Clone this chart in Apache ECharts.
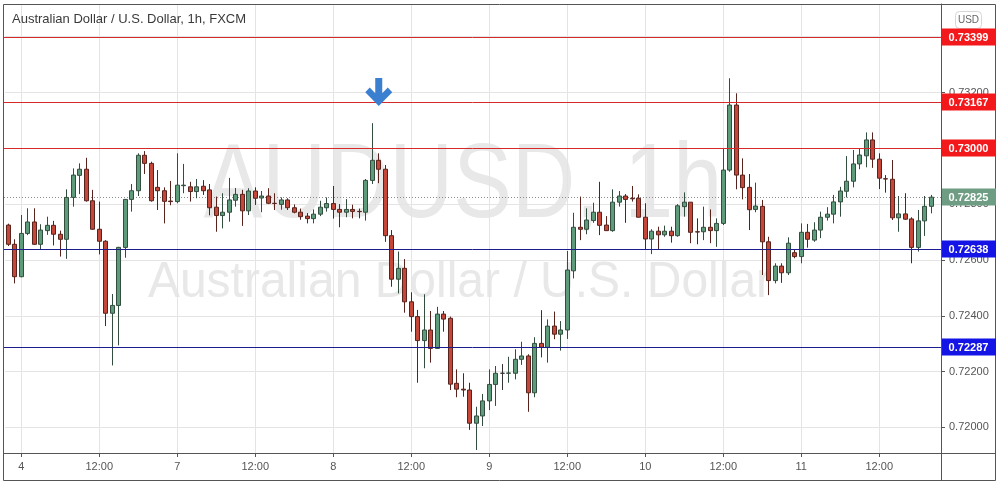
<!DOCTYPE html>
<html><head><meta charset="utf-8">
<script src="https://cdn.jsdelivr.net/npm/echarts@6/dist/echarts.min.js"></script>
<style>html,body{margin:0;padding:0;background:#fff}#c{width:1000px;height:486px}</style>
</head><body><div id="c"></div>
<script>
// ---- data ----
const days = ['3','4','7','8','9','10','11'];
const firstHour = 22;
const opens = [0.72725,0.72656,0.72540,0.72695,0.72736,0.72656,0.72705,0.72724,0.72692,0.72674,
 0.72824,0.72903,0.72925,0.72812,0.72710,0.72667,0.72409,0.72437,0.72645,0.72817,
 0.72848,0.72975,0.72946,0.72860,0.72848,0.72811,0.72809,0.72866,0.72862,0.72845,
 0.72864,0.72851,0.72789,0.72759,0.72771,0.72814,0.72835,0.72776,0.72847,0.72822,
 0.72829,0.72803,0.72799,0.72815,0.72787,0.72771,0.72757,0.72748,0.72764,0.72787,
 0.72802,0.72781,0.72771,0.72781,0.72774,0.72771,0.72885,0.72957,0.72925,0.72687,
 0.72531,0.72570,0.72450,0.72397,0.72311,0.72349,0.72283,0.72406,0.72391,0.72158,
 0.72137,0.72134,0.72015,0.72041,0.72095,0.72154,0.72194,0.72194,0.72194,0.72244,
 0.72256,0.72124,0.72301,0.72287,0.72363,0.72334,0.72349,0.72561,0.72717,0.72710,
 0.72741,0.72771,0.72725,0.72705,0.72807,0.72829,0.72821,0.72821,0.72753,0.72675,
 0.72703,0.72690,0.72703,0.72687,0.72791,0.72807,0.72701,0.72701,0.72717,0.72705,
 0.72731,0.72922,0.73155,0.72904,0.72860,0.72781,0.72792,0.72665,0.72526,0.72578,
 0.72554,0.72626,0.72612,0.72699,0.72671,0.72707,0.72753,0.72764,0.72808,0.72846,
 0.72882,0.72944,0.72973,0.73030,0.72961,0.72891,0.72889,0.72751,0.72765,0.72747,
 0.72645,0.72740,0.72792];
const closes = [0.72656,0.72540,0.72695,0.72736,0.72656,0.72707,0.72724,0.72692,0.72674,0.72824,
 0.72904,0.72925,0.72812,0.72710,0.72667,0.72409,0.72437,0.72645,0.72817,0.72848,
 0.72975,0.72946,0.72812,0.72848,0.72810,0.72809,0.72868,0.72868,0.72845,0.72862,
 0.72848,0.72787,0.72759,0.72771,0.72815,0.72835,0.72776,0.72847,0.72821,0.72829,
 0.72803,0.72802,0.72815,0.72787,0.72771,0.72755,0.72748,0.72764,0.72789,0.72802,
 0.72781,0.72771,0.72781,0.72774,0.72773,0.72885,0.72957,0.72925,0.72687,0.72531,
 0.72570,0.72450,0.72397,0.72311,0.72349,0.72283,0.72406,0.72388,0.72155,0.72137,
 0.72134,0.72015,0.72041,0.72095,0.72154,0.72194,0.72194,0.72195,0.72244,0.72256,
 0.72124,0.72301,0.72287,0.72363,0.72334,0.72349,0.72564,0.72717,0.72710,0.72743,
 0.72771,0.72724,0.72705,0.72807,0.72829,0.72817,0.72819,0.72753,0.72675,0.72703,
 0.72690,0.72703,0.72687,0.72794,0.72807,0.72699,0.72700,0.72717,0.72705,0.72731,
 0.72922,0.73155,0.72904,0.72859,0.72780,0.72793,0.72665,0.72526,0.72578,0.72554,
 0.72660,0.72612,0.72699,0.72674,0.72707,0.72753,0.72764,0.72808,0.72847,0.72882,
 0.72944,0.72976,0.73030,0.72961,0.72893,0.72890,0.72751,0.72765,0.72746,0.72645,
 0.72740,0.72792,0.72825];
const lows = [0.72650,0.72516,0.72538,0.72689,0.72654,0.72638,0.72690,0.72652,0.72612,0.72604,
 0.72791,0.72836,0.72809,0.72708,0.72620,0.72363,0.72222,0.72294,0.72608,0.72773,
 0.72829,0.72908,0.72809,0.72779,0.72731,0.72796,0.72803,0.72839,0.72809,0.72821,
 0.72833,0.72760,0.72701,0.72713,0.72737,0.72791,0.72722,0.72761,0.72797,0.72771,
 0.72800,0.72779,0.72780,0.72779,0.72767,0.72744,0.72731,0.72731,0.72757,0.72773,
 0.72748,0.72717,0.72753,0.72749,0.72749,0.72741,0.72872,0.72875,0.72665,0.72504,
 0.72480,0.72411,0.72343,0.72160,0.72212,0.72232,0.72281,0.72343,0.72134,0.72108,
 0.72110,0.71991,0.71919,0.72005,0.72062,0.72077,0.72134,0.72160,0.72172,0.72224,
 0.72056,0.72108,0.72251,0.72232,0.72316,0.72275,0.72317,0.72534,0.72671,0.72692,
 0.72733,0.72689,0.72705,0.72701,0.72791,0.72733,0.72809,0.72753,0.72638,0.72621,
 0.72638,0.72683,0.72662,0.72683,0.72755,0.72660,0.72656,0.72671,0.72660,0.72647,
 0.72725,0.72916,0.72853,0.72817,0.72707,0.72771,0.72546,0.72474,0.72516,0.72518,
 0.72546,0.72606,0.72588,0.72644,0.72665,0.72678,0.72741,0.72731,0.72755,0.72824,
 0.72860,0.72925,0.72932,0.72930,0.72854,0.72841,0.72743,0.72701,0.72743,0.72588,
 0.72630,0.72686,0.72767];
const highs = [0.72730,0.72674,0.72761,0.72785,0.72785,0.72728,0.72755,0.72740,0.72705,0.72853,
 0.72928,0.72946,0.72966,0.72851,0.72809,0.72671,0.72478,0.72647,0.72818,0.72872,
 0.72982,0.72990,0.72952,0.72922,0.72860,0.72883,0.72982,0.72944,0.72880,0.72890,
 0.72886,0.72872,0.72827,0.72839,0.72894,0.72858,0.72851,0.72857,0.72860,0.72847,
 0.72857,0.72839,0.72824,0.72821,0.72799,0.72784,0.72768,0.72781,0.72812,0.72824,
 0.72865,0.72800,0.72818,0.72798,0.72784,0.72890,0.73090,0.72982,0.72940,0.72707,
 0.72630,0.72603,0.72484,0.72421,0.72477,0.72417,0.72432,0.72417,0.72397,0.72208,
 0.72194,0.72160,0.72074,0.72120,0.72208,0.72220,0.72227,0.72253,0.72280,0.72307,
 0.72262,0.72323,0.72420,0.72387,0.72415,0.72381,0.72632,0.72769,0.72827,0.72785,
 0.72805,0.72880,0.72757,0.72853,0.72847,0.72836,0.72865,0.72835,0.72803,0.72710,
 0.72719,0.72723,0.72719,0.72800,0.72842,0.72807,0.72749,0.72791,0.72781,0.72749,
 0.73000,0.73251,0.73197,0.72964,0.72908,0.72877,0.72815,0.72683,0.72588,0.72588,
 0.72681,0.72638,0.72731,0.72729,0.72735,0.72773,0.72789,0.72833,0.72862,0.72972,
 0.72994,0.72999,0.73057,0.73057,0.72982,0.72904,0.72958,0.72829,0.72839,0.72753,
 0.72779,0.72829,0.72833];
const resistanceLevels = [0.73399, 0.73167, 0.73000];
const supportLevels = [0.72638, 0.72287];
const lastPrice = 0.72825;
const priceTicks = [0.720, 0.722, 0.724, 0.726, 0.728, 0.730, 0.732, 0.734];
const arrowMark = { index: 57, price: 0.73202 };
const yMin = 0.719083, yMax = 0.73517;

// ---- build ----
const cats = [];
for (let i = 0; i < opens.length; i++) {
  const t = firstHour + i;
  cats.push(days[Math.floor(t / 24)] + ' ' + String(t % 24).padStart(2, '0') + ':00');
}
cats.push('');
const isMajor = v => / (00|12):00$/.test(v);
const fmtCat = v => v.endsWith(' 00:00') ? v.split(' ')[0] : (v.endsWith(' 12:00') ? '12:00' : '');
const candles = opens.map((o, i) => [o, closes[i], lows[i], highs[i]]);
const FONT = 'Liberation Sans';

const baseGraphic = [
  { type: 'text', z: 0, x: 463, y: 188, scaleY: 1.2, silent: true,
    style: { text: 'AUDUSD, 1h', fill: '#e8e8e8', font: '88px "Liberation Sans"', textAlign: 'center', textVerticalAlign: 'middle' } },
  { type: 'text', z: 0, x: 460, y: 283, scaleY: 1.05, silent: true,
    style: { text: 'Australian Dollar / U.S. Dollar', fill: '#e8e8e8', font: '48px "Liberation Sans"', textAlign: 'center', textVerticalAlign: 'middle' } },
  { type: 'text', z: 50, x: 12, y: 19, silent: true,
    style: { text: 'Australian Dollar / U.S. Dollar, 1h, FXCM', fill: '#3a3a3a', font: '13px "Liberation Sans"', textVerticalAlign: 'middle' } },
  { type: 'rect', z: 50, silent: true, shape: { x: 3.5, y: 4.5, width: 992, height: 476 }, style: { fill: 'none', stroke: '#555', lineWidth: 1 } },
  { type: 'line', z: 50, silent: true, shape: { x1: 941.5, y1: 4, x2: 941.5, y2: 481 }, style: { stroke: '#555', lineWidth: 1 } },
  { type: 'line', z: 50, silent: true, shape: { x1: 3, y1: 453.5, x2: 996, y2: 453.5 }, style: { stroke: '#555', lineWidth: 1 } },
  { type: 'rect', z: 50, silent: true, shape: { x: 955.5, y: 11.5, width: 26, height: 17, r: 4 }, style: { fill: '#fff', stroke: '#d6d6d6', lineWidth: 1 } },
  { type: 'text', z: 51, x: 968.5, y: 20, silent: true,
    style: { text: 'USD', fill: '#666', font: '10px "Liberation Sans"', textAlign: 'center', textVerticalAlign: 'middle' } }
];

const chart = echarts.init(document.getElementById('c'));
chart.setOption({
  animation: false,
  backgroundColor: '#fff',
  grid: { left: 5, right: 59, top: 4, bottom: 33, containLabel: false },
  xAxis: {
    type: 'category', data: cats, boundaryGap: true,
    axisLine: { show: true, lineStyle: { color: '#555' } },
    axisTick: { show: true, alignWithLabel: true, length: 4, interval: (i, v) => isMajor(v), lineStyle: { color: '#555' } },
    axisLabel: { interval: (i, v) => isMajor(v), formatter: fmtCat, color: '#555', fontSize: 11, fontFamily: FONT, margin: 8 },
    splitLine: { show: false }
  },
  yAxis: {
    type: 'value', position: 'right', min: yMin, max: yMax, scale: true,
    axisLine: { show: true, lineStyle: { color: '#555' } },
    axisTick: { show: true, length: 4, customValues: priceTicks, lineStyle: { color: '#555' } },
    axisLabel: { customValues: priceTicks, formatter: v => v.toFixed(5), color: '#555', fontSize: 11, fontFamily: FONT, margin: 8 },
    splitLine: { show: false }
  },
  series: [
    {
      type: 'line', data: [], silent: true, z: 1, color: '#e4e4e4',
      markLine: {
        silent: true, symbol: 'none', z: 1, animation: false, precision: 6,
        label: { show: false },
        lineStyle: { color: '#e4e4e4', width: 1, type: 'solid' },
        data: [
          ...priceTicks.map(v => ({ yAxis: v })),
          ...cats.filter(isMajor).map(c => ({ xAxis: c }))
        ]
      }
    },
    {
      type: 'candlestick', data: candles, z: 2, barWidth: 4.5,
      itemStyle: { color: '#5e9b7b', color0: '#c4473a', borderColor: '#334d3f', borderColor0: '#57231c', borderColorDoji: '#333', borderWidth: 1 },
      markPoint: {
        silent: true, z: 12,
        data: [{ coord: [arrowMark.index, arrowMark.price],
          symbol: 'path://M10.5,0 L17.5,0 L17.5,15 L23,9.5 L27.5,14 L14,27.5 L0.5,14 L5,9.5 L10.5,15 Z',
          symbolSize: [27, 28], itemStyle: { color: '#3a7fd0' }, label: { show: false } }]
      }
    }
  ],
  graphic: baseGraphic
});

// level lines and price boxes, positioned through the y axis scale
const yPix = v => Math.round(chart.convertToPixel({ yAxisIndex: 0 }, v)) + 0.5;
const extra = [];
const addLevel = (v, lineColor, boxColor, dashed, z) => {
  const y = yPix(v);
  extra.push({ type: 'line', z: z, silent: true, shape: { x1: 4, y1: y, x2: 941, y2: y },
    style: { stroke: lineColor, lineWidth: 1, lineDash: dashed ? [1, 2] : null } });
  extra.push({ type: 'rect', z: 60, silent: true, shape: { x: 942, y: y - 9, width: 54, height: 17 }, style: { fill: boxColor } });
  extra.push({ type: 'text', z: 61, silent: true, x: 968.5, y: y,
    style: { text: v.toFixed(5), fill: '#fff', font: 'bold 11px "Liberation Sans"', textAlign: 'center', textVerticalAlign: 'middle' } });
};
addLevel(lastPrice, '#8c8c8c', '#6e9d83', true, 1);
resistanceLevels.forEach(v => addLevel(v, '#d42a2a', '#f2181b', false, 10));
supportLevels.forEach(v => addLevel(v, '#1c1c8c', '#1414e6', false, 10));
chart.setOption({ graphic: baseGraphic.concat(extra) });
</script></body></html>
